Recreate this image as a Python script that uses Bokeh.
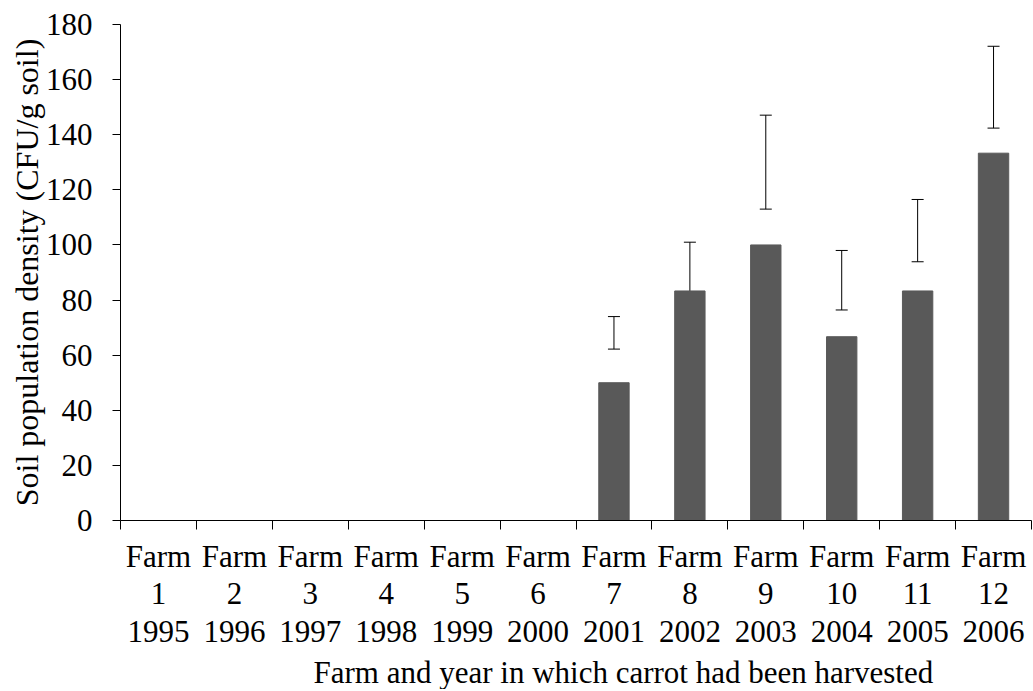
from bokeh.plotting import figure
from bokeh.models import FixedTicker, Range1d, ColumnDataSource, Whisker, TeeHead, Title
from bokeh.embed import file_html
from bokeh.resources import INLINE

farms = ["1", "2", "3", "4", "5", "6", "7", "8", "9", "10", "11", "12"]
years = ["1995", "1996", "1997", "1998", "1999", "2000",
         "2001", "2002", "2003", "2004", "2005", "2006"]
density = [0, 0, 0, 0, 0, 0, 50.0, 83.3, 100.0, 66.7, 83.3, 133.3]
err_low = [None, None, None, None, None, None, 62.2, 79.2, 113.0, 76.4, 93.9, 142.4]
err_high = [None, None, None, None, None, None, 74.0, 101.0, 147.1, 98.0, 116.5, 172.1]
y_ticks = [0, 20, 40, 60, 80, 100, 120, 140, 160, 180]
x_title = "Farm and year in which carrot had been harvested"
y_title = "Soil population density (CFU/g soil)"

FONT = "Liberation Serif"
FS = "31px"

xs = [i + 0.5 for i in range(len(farms))]
src = ColumnDataSource(dict(x=xs, top=density))
ex = [xs[i] for i in range(len(farms)) if err_low[i] is not None]
elo = [v for v in err_low if v is not None]
ehi = [v for v in err_high if v is not None]
esrc = ColumnDataSource(dict(x=ex, lo=elo, hi=ehi))

p = figure(frame_width=911, frame_height=496,
           x_range=Range1d(0, len(farms)), y_range=Range1d(0, 180),
           output_backend="svg", toolbar_location=None,
           min_border_left=120, min_border_top=24, min_border_right=2, min_border_bottom=0)
p.outline_line_color = None
p.xgrid.visible = False
p.ygrid.visible = False
p.background_fill_color = "white"
p.border_fill_color = "white"

p.vbar(x="x", top="top", width=0.4, bottom=0, source=src,
       fill_color="#595959", line_color="#595959")

w = Whisker(base="x", lower="lo", upper="hi", source=esrc,
            line_color="black", line_width=1,
            upper_head=TeeHead(size=12, line_color="black", line_width=1),
            lower_head=TeeHead(size=12, line_color="black", line_width=1))
p.add_layout(w)

# x axis
p.xaxis.ticker = FixedTicker(ticks=xs, minor_ticks=list(range(len(farms) + 1)))
p.xaxis.major_label_overrides = {xs[i]: f"Farm\n{farms[i]}\n{years[i]}" for i in range(len(farms))}
p.xaxis.major_tick_out = 0
p.xaxis.major_tick_in = 0
p.xaxis.minor_tick_out = 9
p.xaxis.minor_tick_in = 0
p.xaxis.minor_tick_line_color = "black"
p.xaxis.axis_line_color = "black"
p.xaxis.major_label_text_font = FONT
p.xaxis.major_label_text_font_size = FS
p.xaxis.major_label_text_color = "black"
p.xaxis.major_label_text_line_height = 1.08
p.xaxis.major_label_standoff = 9

xt = Title(text=x_title, align="left", offset=193,
           text_font=FONT, text_font_size=FS, text_font_style="normal",
           text_color="black", standoff=0)
p.add_layout(xt, "below")

# y axis
p.yaxis.ticker = FixedTicker(ticks=y_ticks)
p.yaxis.major_tick_out = 8
p.yaxis.major_tick_in = 0
p.yaxis.minor_tick_line_color = None
p.yaxis.axis_line_color = "black"
p.yaxis.major_tick_line_color = "black"
p.yaxis.major_label_text_font = FONT
p.yaxis.major_label_text_font_size = FS
p.yaxis.major_label_text_color = "black"
p.yaxis.major_label_standoff = 20
p.yaxis.axis_label = y_title
p.yaxis.axis_label_text_font = FONT
p.yaxis.axis_label_text_font_size = "32px"
p.yaxis.axis_label_text_font_style = "normal"
p.yaxis.axis_label_text_color = "black"
p.yaxis.axis_label_standoff = -2

open("out.html", "w").write(file_html(p, INLINE))
